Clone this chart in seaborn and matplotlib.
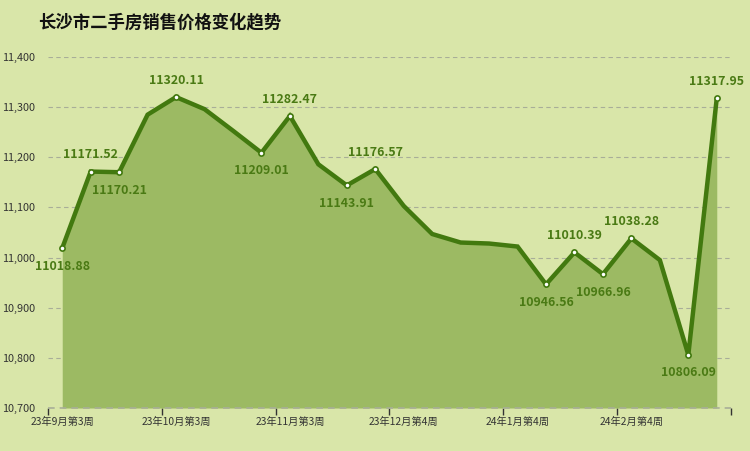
import matplotlib
matplotlib.use('Agg')
import matplotlib.pyplot as plt
import seaborn as sns
import pandas as pd

# ---- data ----
weeks = list(range(24))
prices = [11018.88, 11171.52, 11170.21, 11285.0, 11320.11, 11296.0, 11253.0,
          11209.01, 11282.47, 11186.0, 11143.91, 11176.57, 11103.0, 11047.0,
          11030.0, 11028.0, 11022.0, 10946.56, 11010.39, 10966.96, 11038.28,
          10995.0, 10806.09, 11317.95]
tick_positions = [0, 4, 8, 12, 16, 20]
tick_labels = ['23年9月第3周', '23年10月第3周', '23年11月第3周',
               '23年12月第4周', '24年1月第4周', '24年2月第4周']
labeled_idx = [0, 1, 2, 4, 7, 8, 10, 11, 17, 18, 19, 20, 22, 23]
label_side = ['below', 'above', 'below', 'above', 'below', 'above', 'below',
              'above', 'below', 'above', 'below', 'above', 'below', 'above']
y_ticks = [10700, 10800, 10900, 11000, 11100, 11200, 11300, 11400]

df = pd.DataFrame({'week': weeks, 'price': prices})

BG = '#d9e6a9'
FILL = '#9cba63'
LINE = '#42790f'
LBL = '#4a7a14'
GRID = '#a8ae98'

sns.set_theme(style='white')
plt.rcParams['font.family'] = ['Noto Sans CJK SC', 'DejaVu Sans']

fig = plt.figure(figsize=(7.5, 4.51), dpi=100, facecolor=BG)
ax = fig.add_axes([48/750, 43/451, (731-48)/750, (408-57)/451])
ax.set_facecolor(BG)

ax.fill_between(df['week'], df['price'], 10700, color=FILL, lw=0, zorder=1)
sns.lineplot(data=df, x='week', y='price', ax=ax, color=LINE, lw=3.2,
             zorder=3, solid_joinstyle='miter')

sub = df.iloc[labeled_idx]
ax.scatter(sub['week'], sub['price'], s=14, facecolor='white',
           edgecolor=LINE, linewidth=1.2, zorder=4)

for i, side in zip(labeled_idx, label_side):
    dy = 12 if side == 'above' else -13
    ax.annotate(f'{prices[i]:.2f}', (weeks[i], prices[i]),
                xytext=(0, dy), textcoords='offset points',
                ha='center', va='center', fontsize=8.9, fontweight='bold',
                color=LBL, zorder=5)

ax.set_xlim(-0.5, 23.5)
ax.set_ylim(10700, 11400)
ax.set_yticks(y_ticks)
ax.set_yticklabels([f'{v:,}' for v in y_ticks])
ax.set_xticks(tick_positions)
ax.set_xticklabels(tick_labels)
ax.set_xticks([-0.5 + 4 * k for k in range(7)], minor=True)
ax.tick_params(axis='x', which='major', length=0, pad=6, labelsize=7.4,
               colors='#333333')
ax.tick_params(axis='x', which='minor', length=5, width=1, color='#333333',
               direction='out', bottom=True)
ax.tick_params(axis='y', length=0, pad=9, labelsize=7.8, colors='#333333')

ax.grid(axis='y', linestyle=(0, (4, 3)), color=GRID, lw=0.8, zorder=2)
ax.axhline(10700, linestyle=(0, (4, 3)), color=GRID, lw=1.2, zorder=2,
           clip_on=False)
for s in ['top', 'right', 'left', 'bottom']:
    ax.spines[s].set_visible(False)
ax.set_xlabel('')
ax.set_ylabel('')
for gl in ax.get_ygridlines():
    gl.set_zorder(2)

fig.text(38/750, 1 - 22/451, '长沙市二手房销售价格变化趋势', fontsize=12.5,
         fontweight='bold', color='#111111', ha='left', va='center')

fig.savefig('out.png', dpi=100, facecolor=BG)
